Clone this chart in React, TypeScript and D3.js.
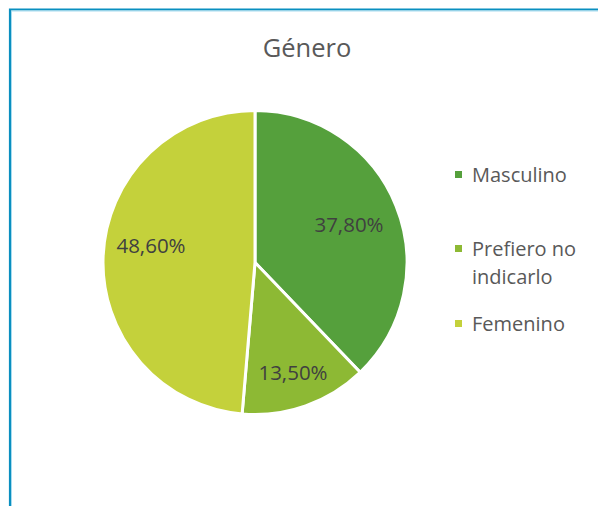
import React from "react";
import * as d3 from "d3";

const categories = ["Masculino", "Prefiero no indicarlo", "Femenino"];
const values = [37.8, 13.5, 48.6];
const labels = ["37,80%", "13,50%", "48,60%"];
const legendLines = [["Masculino"], ["Prefiero no", "indicarlo"], ["Femenino"]];
const colors = ["#55a03c", "#8db934", "#c4d13b"];
const title = "Género";

export default function App() {
  const W = 598, H = 506;
  const cx = 255, cy = 262.5, r = 152;
  const pie = d3.pie<number>().sort(null).value((d) => d)(values);
  const arc = d3.arc<d3.PieArcDatum<number>>().innerRadius(0).outerRadius(r);
  const font = "'Open Sans', 'Noto Sans', sans-serif";
  const legendY = [175, 249, 324];
  const labelPos = [
    [349, 231],
    [293, 379],
    [151, 252],
  ];
  return (
    <svg width={W} height={H} style={{ position: "absolute", left: 0, top: 0 }} fontFamily={font}>
      <rect x={0} y={0} width={W} height={H} fill="#fff" />
      <path d={`M10,${H + 5} V9.5 H${W + 5}`} fill="none" stroke="#0a8fc0" strokeWidth={2.2} />
      <path d={`M11.5,${H + 5} V11 H${W + 5}`} fill="none" stroke="#a8dcef" strokeWidth={1} />
      <text x={307} y={57} textAnchor="middle" fontSize={25.5} fill="#595959">{title}</text>
      <g transform={`translate(${cx},${cy})`}>
        {pie.map((p, i) => (
          <path key={categories[i]} d={arc(p) || ""} fill={colors[i]} stroke="#fff" strokeWidth={3} strokeLinejoin="round" />
        ))}
      </g>
      {labels.map((t, i) => (
        <text key={t} x={labelPos[i][0]} y={labelPos[i][1] + 1} textAnchor="middle" fontSize={20.5} fill="#404040">{t}</text>
      ))}
      {legendLines.map((lines, i) => (
        <g key={categories[i]}>
          <rect x={455} y={legendY[i] - 4} width={7} height={7} fill={colors[i]} />
          {lines.map((t, j) => (
            <text key={t} x={472} y={legendY[i] + 7 + j * 28} fontSize={20} fill="#595959">{t}</text>
          ))}
        </g>
      ))}
    </svg>
  );
}
